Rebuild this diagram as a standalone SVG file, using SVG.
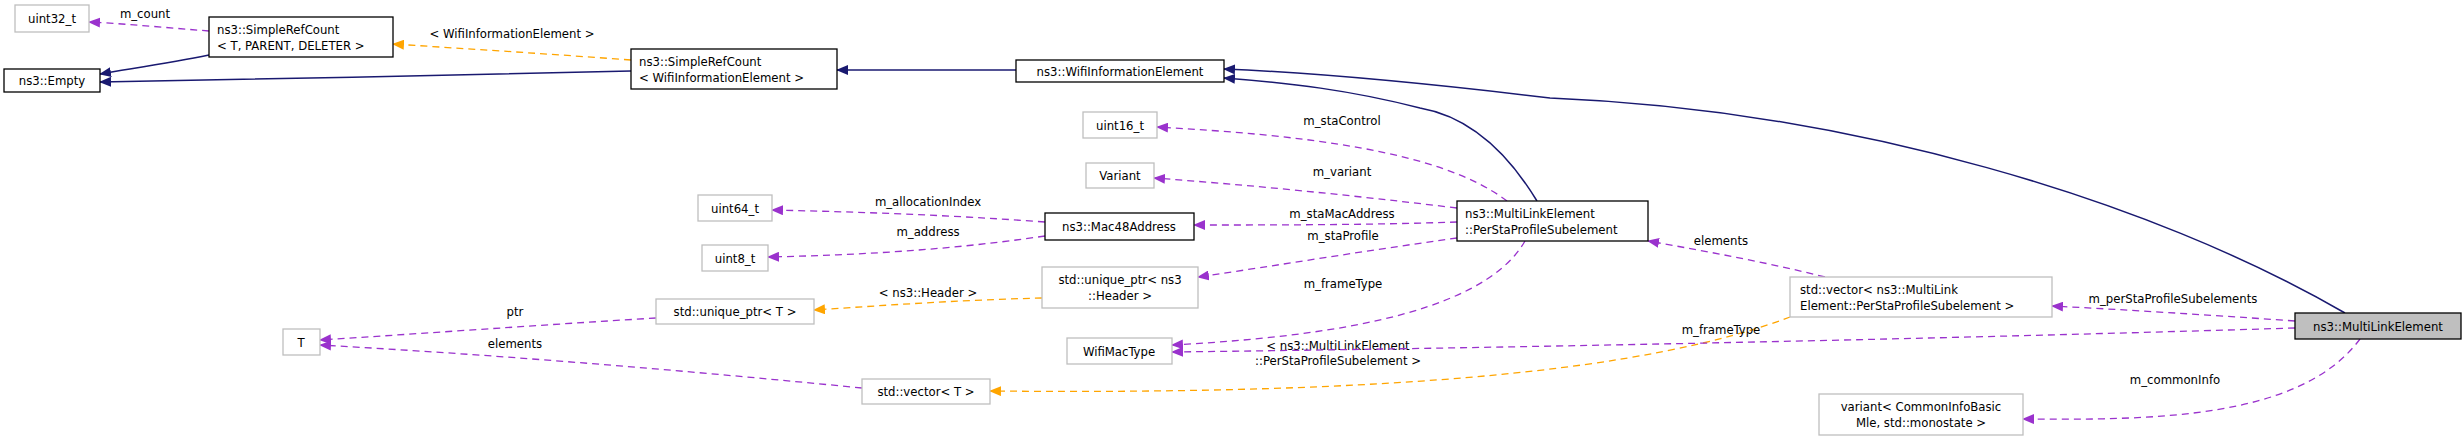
<svg xmlns="http://www.w3.org/2000/svg" width="2463" height="441" viewBox="0 0 2463 441">
<style>
text{font-family:"DejaVu Sans Condensed","DejaVu Sans",sans-serif;font-stretch:condensed;font-size:13px;fill:#000}
.n rect{fill:#fff;stroke:#000;stroke-width:1.3}
.u rect{fill:#fff;stroke:#bfbfbf;stroke-width:1.3}
.c text{text-anchor:middle}
.inh{fill:none;stroke:#191970;stroke-width:1.5}
.mem{fill:none;stroke:#9a32cd;stroke-width:1.3;stroke-dasharray:7,5}
.tpl{fill:none;stroke:#ffa500;stroke-width:1.3;stroke-dasharray:7,5}
.lbl{text-anchor:middle}
</style>
<defs>
<marker id="an" markerWidth="12" markerHeight="10" refX="11" refY="5" orient="auto" markerUnits="userSpaceOnUse"><path d="M0,0L12,5L0,10z" fill="#191970"/></marker>
<marker id="ap" markerWidth="12" markerHeight="10" refX="11" refY="5" orient="auto" markerUnits="userSpaceOnUse"><path d="M0,0L12,5L0,10z" fill="#9a32cd"/></marker>
<marker id="ao" markerWidth="12" markerHeight="10" refX="11" refY="5" orient="auto" markerUnits="userSpaceOnUse"><path d="M0,0L12,5L0,10z" fill="#ffa500"/></marker>
</defs>
<g id="connectors">
<path class="mem" marker-end="url(#ap)" d="M209,31 C170,28 130,24 89,22"/>
<text class="lbl" x="145" y="18">m_count</text>
<path class="inh" marker-end="url(#an)" d="M209,55 C170,63 135,68 100,74"/>
<path class="tpl" marker-end="url(#ao)" d="M631,60 C550,54 470,49 393,44"/>
<text class="lbl" x="512" y="38">&lt; WifiInformationElement &gt;</text>
<path class="inh" marker-end="url(#an)" d="M631,71 C450,75 280,79 100,82"/>
<path class="inh" marker-end="url(#an)" d="M1016,70 L837,70"/>
<path class="inh" marker-end="url(#an)" d="M2345,313 C2150,200 1850,110 1550,98 C1400,80 1300,72 1224,69"/>
<path class="inh" marker-end="url(#an)" d="M1537,201 C1500,140 1460,115 1420,108 C1350,90 1290,83 1224,78"/>
<path class="mem" marker-end="url(#ap)" d="M1507,201 C1440,150 1300,135 1157,127"/>
<text class="lbl" x="1342" y="125">m_staControl</text>
<path class="mem" marker-end="url(#ap)" d="M1457,208 C1350,195 1250,185 1154,178"/>
<text class="lbl" x="1342" y="176">m_variant</text>
<path class="mem" marker-end="url(#ap)" d="M1457,222 C1370,225 1280,225 1194,225"/>
<text class="lbl" x="1342" y="218">m_staMacAddress</text>
<path class="mem" marker-end="url(#ap)" d="M1045,222 C950,215 860,212 772,210"/>
<text class="lbl" x="928" y="206">m_allocationIndex</text>
<path class="mem" marker-end="url(#ap)" d="M1045,236 C950,250 860,255 768,257"/>
<text class="lbl" x="928" y="236">m_address</text>
<path class="mem" marker-end="url(#ap)" d="M1457,238 C1370,250 1280,265 1198,277"/>
<text class="lbl" x="1343" y="240">m_staProfile</text>
<path class="mem" marker-end="url(#ap)" d="M1525,241 C1480,320 1300,338 1172,345"/>
<text class="lbl" x="1343" y="288">m_frameType</text>
<path class="tpl" marker-end="url(#ao)" d="M1042,298 C960,300 890,305 814,310"/>
<text class="lbl" x="928" y="297">&lt; ns3::Header &gt;</text>
<path class="mem" marker-end="url(#ap)" d="M656,318 C540,325 430,333 320,340"/>
<text class="lbl" x="515" y="316">ptr</text>
<path class="mem" marker-end="url(#ap)" d="M862,388 C680,370 500,355 320,345"/>
<text class="lbl" x="515" y="348">elements</text>
<path class="tpl" marker-end="url(#ao)" d="M1790,317 C1650,370 1400,395 990,391"/>
<text class="lbl" x="1338" y="350">&lt; ns3::MultiLinkElement</text>
<text class="lbl" x="1338" y="365">::PerStaProfileSubelement &gt;</text>
<path class="mem" marker-end="url(#ap)" d="M1825,277 C1765,262 1710,252 1648,241"/>
<text class="lbl" x="1721" y="245">elements</text>
<path class="mem" marker-end="url(#ap)" d="M2295,321 C2210,315 2130,310 2052,306"/>
<text class="lbl" x="2173" y="303">m_perStaProfileSubelements</text>
<path class="mem" marker-end="url(#ap)" d="M2295,328 C1900,340 1500,348 1172,352"/>
<text class="lbl" x="1721" y="334">m_frameType</text>
<path class="mem" marker-end="url(#ap)" d="M2360,339 C2300,420 2150,420 2023,419"/>
<text class="lbl" x="2175" y="384">m_commonInfo</text>
</g>
<g id="uint32_t" class="u c"><rect x="15" y="5" width="74" height="27"/><text x="52" y="23">uint32_t</text></g>
<g id="SimpleRefCountT" class="n"><rect x="209" y="17" width="184" height="40"/><text x="217" y="34">ns3::SimpleRefCount</text><text x="217" y="50">&lt; T, PARENT, DELETER &gt;</text></g>
<g id="Empty" class="n c"><rect x="4" y="69" width="96" height="23"/><text x="52" y="85">ns3::Empty</text></g>
<g id="SimpleRefCountWIE" class="n"><rect x="631" y="49" width="206" height="40"/><text x="639" y="66">ns3::SimpleRefCount</text><text x="639" y="82">&lt; WifiInformationElement &gt;</text></g>
<g id="WifiInformationElement" class="n c"><rect x="1016" y="60" width="208" height="22"/><text x="1120" y="76">ns3::WifiInformationElement</text></g>
<g id="uint16_t" class="u c"><rect x="1083" y="112" width="74" height="26"/><text x="1120" y="130">uint16_t</text></g>
<g id="Variant" class="u c"><rect x="1086" y="163" width="68" height="25"/><text x="1120" y="180">Variant</text></g>
<g id="uint64_t" class="u c"><rect x="698" y="195" width="74" height="26"/><text x="735" y="213">uint64_t</text></g>
<g id="Mac48Address" class="n c"><rect x="1045" y="213" width="149" height="27"/><text x="1119" y="231">ns3::Mac48Address</text></g>
<g id="uint8_t" class="u c"><rect x="702" y="245" width="66" height="26"/><text x="735" y="263">uint8_t</text></g>
<g id="PerStaProfileSubelement" class="n"><rect x="1457" y="201" width="191" height="40"/><text x="1465" y="218">ns3::MultiLinkElement</text><text x="1465" y="234">::PerStaProfileSubelement</text></g>
<g id="unique_ptr_Header" class="u c"><rect x="1042" y="267" width="156" height="41"/><text x="1120" y="284">std::unique_ptr&lt; ns3</text><text x="1120" y="300">::Header &gt;</text></g>
<g id="unique_ptr_T" class="u c"><rect x="656" y="299" width="158" height="25"/><text x="735" y="316">std::unique_ptr&lt; T &gt;</text></g>
<g id="T" class="u c"><rect x="283" y="329" width="37" height="26"/><text x="301" y="347">T</text></g>
<g id="WifiMacType" class="u c"><rect x="1067" y="338" width="105" height="26"/><text x="1119" y="356">WifiMacType</text></g>
<g id="vector_T" class="u c"><rect x="862" y="379" width="128" height="25"/><text x="926" y="396">std::vector&lt; T &gt;</text></g>
<g id="vector_PerSta" class="u"><rect x="1790" y="277" width="262" height="40"/><text x="1800" y="294">std::vector&lt; ns3::MultiLink</text><text x="1800" y="310">Element::PerStaProfileSubelement &gt;</text></g>
<g id="MultiLinkElement" class="n c"><rect x="2295" y="313" width="166" height="26" style="fill:#bfbfbf"/><text x="2378" y="331">ns3::MultiLinkElement</text></g>
<g id="variant_CommonInfo" class="u c"><rect x="1819" y="394" width="204" height="41"/><text x="1921" y="411">variant&lt; CommonInfoBasic</text><text x="1921" y="427">Mle, std::monostate &gt;</text></g>
</svg>
